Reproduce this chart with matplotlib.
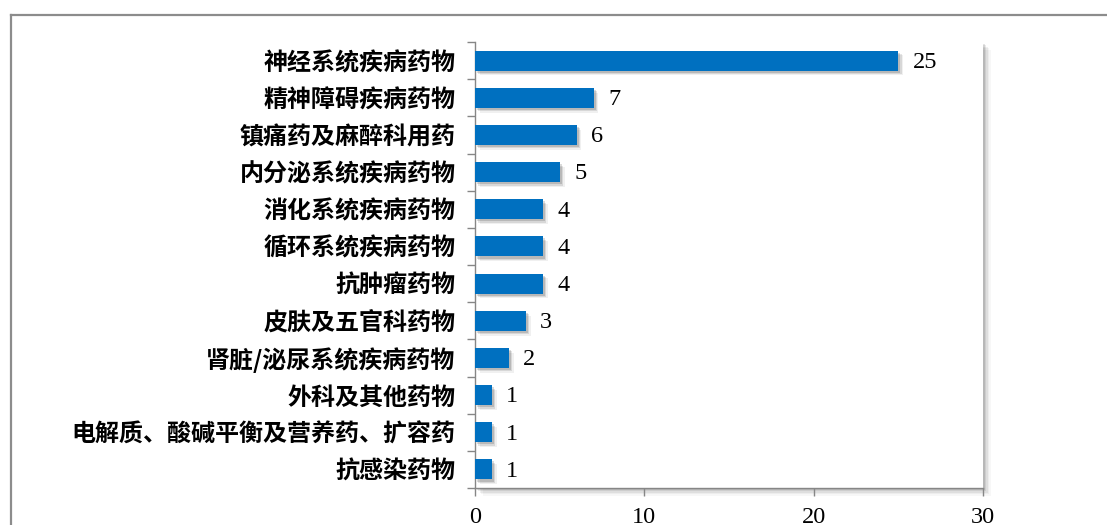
import matplotlib
matplotlib.use("Agg")
import matplotlib.pyplot as plt
import matplotlib.patheffects as pe
from matplotlib.patches import Rectangle
import numpy as np

categories = [
    "神经系统疾病药物",
    "精神障碍疾病药物",
    "镇痛药及麻醉科用药",
    "内分泌系统疾病药物",
    "消化系统疾病药物",
    "循环系统疾病药物",
    "抗肿瘤药物",
    "皮肤及五官科药物",
    "肾脏/泌尿系统疾病药物",
    "外科及其他药物",
    "电解质、酸碱平衡及营养药、扩容药",
    "抗感染药物",
]
counts = [25, 7, 6, 5, 4, 4, 4, 3, 2, 1, 1, 1]
xticks = [0, 10, 20, 30]

BAR_COLOR = "#0070C0"
AXIS_GRAY = "#868686"
cjk = ["Noto Sans CJK SC", "DejaVu Sans"]
serif = ["Liberation Serif", "DejaVu Serif"]

fig = plt.figure(figsize=(11.07, 5.25), dpi=100)

# outer frame (only top and left edges fall inside the image)
fig.add_artist(plt.Line2D([11 / 1107, 1.0], [1 - 15 / 525] * 2,
                          color="#8c8c8c", lw=1.6, transform=fig.transFigure))
fig.add_artist(plt.Line2D([11 / 1107] * 2, [0.0, 1 - 15 / 525],
                          color="#8c8c8c", lw=1.6, transform=fig.transFigure))

left, right, top, bottom = 475 / 1107, 983 / 1107, 1 - 42 / 525, 1 - 488 / 525
ax = fig.add_axes([left, bottom, right - left, top - bottom])
ax.set_zorder(2)

# soft drop shadow behind the plot area
for i, a in enumerate([0.10, 0.08, 0.06, 0.04, 0.03]):
    d = (i + 1) * 1.6
    fig.add_artist(Rectangle((left + d / 1107, bottom - d / 525), right - left, top - bottom,
                             transform=fig.transFigure, facecolor="black",
                             edgecolor="none", alpha=a, zorder=0))
fig.add_artist(Rectangle((left, bottom), right - left, top - bottom,
                         transform=fig.transFigure, facecolor="white",
                         edgecolor="none", zorder=0.5))
ax.set_facecolor("none")

y = np.arange(len(categories))
shadow = [pe.SimplePatchShadow(offset=(o, -o), shadow_rgbFace="black", alpha=al)
          for o, al in [(3.5, 0.06), (2.5, 0.10), (1.5, 0.14)]]
bars = ax.barh(y, counts, height=0.54, color=BAR_COLOR, zorder=3)
for b in bars:
    b.set_path_effects(shadow + [pe.Normal()])

for yi, v in zip(y, counts):
    ax.text(v + 0.85, yi + 0.05, str(v), va="center", ha="left",
            fontsize=17.5, family=serif, color="black")

ax.set_xlim(0, 30)
ax.set_ylim(len(categories) - 0.5, -0.5)
ax.set_xticks(xticks)
ax.set_xticklabels([str(t) for t in xticks], family=serif, fontsize=17.5)
ax.set_yticks(y)
ax.set_yticklabels(categories, family=cjk, fontsize=17.3, fontweight="bold")
ax.set_yticks(np.arange(-0.5, len(categories), 1.0), minor=True)

ax.tick_params(axis="y", which="major", length=0, pad=14)
ax.tick_params(axis="y", which="minor", length=6, color=AXIS_GRAY, width=1)
ax.tick_params(axis="x", length=6, color=AXIS_GRAY, width=1, pad=8, direction="out")

for s in ["top", "right"]:
    ax.spines[s].set_visible(False)
for s in ["left", "bottom"]:
    ax.spines[s].set_color(AXIS_GRAY)
    ax.spines[s].set_linewidth(1)

fig.savefig("out.png", dpi=100, facecolor="white")
